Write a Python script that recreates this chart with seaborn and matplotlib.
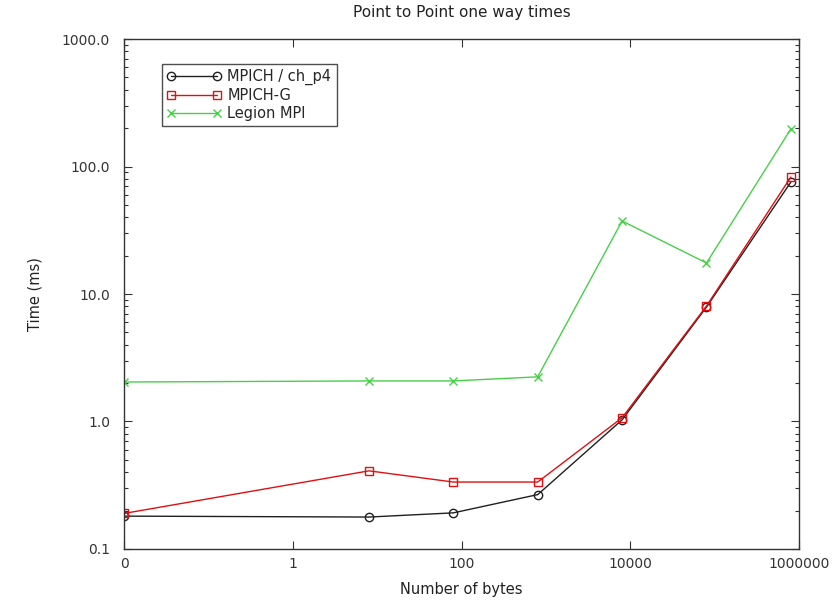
import numpy as np
import pandas as pd
import matplotlib
matplotlib.use("Agg")
import matplotlib.pyplot as plt
from matplotlib.ticker import FixedLocator, FixedFormatter, LogLocator, NullFormatter
import seaborn as sns

# Message sizes in bytes (0 is placed at 0.01 on the log axis)
sizes = [0, 8, 80, 800, 8000, 80000, 800000]

# One-way times in ms
mpich_p4 = [0.181, 0.178, 0.192, 0.267, 1.03, 7.9, 75.5]
mpich_g = [0.19, 0.41, 0.335, 0.335, 1.07, 8.05, 82.7]
legion_mpi = [2.04, 2.08, 2.08, 2.24, 37.4, 17.5, 197.0]

series_names = ["MPICH / ch_p4", "MPICH-G", "Legion MPI"]
x_tick_values = [0, 1, 100, 10000, 1000000]
y_tick_values = [0.1, 1.0, 10.0, 100.0, 1000.0]

sns.set_style("ticks")
plt.rcParams["font.family"] = ["DejaVu Sans"]

zero_pos = 0.01
plot_x = [zero_pos if s == 0 else s for s in sizes]

frames = []
for name, vals in zip(series_names, [mpich_p4, mpich_g, legion_mpi]):
    frames.append(pd.DataFrame({"bytes": plot_x, "time": vals, "impl": name}))
df = pd.concat(frames, ignore_index=True)

styles = {
    "MPICH / ch_p4": dict(color="#202020", marker="o", markerfacecolor="none"),
    "MPICH-G": dict(color="#e01010", marker="s", markerfacecolor="none"),
    "Legion MPI": dict(color="#48d048", marker="x"),
}

fig = plt.figure(figsize=(8.38, 6.07), dpi=100)
ax = fig.add_axes([0.148, 0.0956, 0.8055, 0.8401])

for name in series_names:
    sub = df[df["impl"] == name]
    st = styles[name]
    sns.lineplot(data=sub, x="bytes", y="time", ax=ax, label=name,
                 color=st["color"], marker=st["marker"],
                 markerfacecolor=st.get("markerfacecolor", st["color"]),
                 markeredgecolor=st["color"], markersize=6,
                 markeredgewidth=1.0, linewidth=1.0, sort=False)

ax.set_xscale("log")
ax.set_yscale("log")
ax.set_xlim(zero_pos, 1e6)
ax.set_ylim(0.1, 1000)

x_positions = [zero_pos if v == 0 else v for v in x_tick_values]
ax.xaxis.set_major_locator(FixedLocator(x_positions))
ax.xaxis.set_major_formatter(FixedFormatter([str(v) for v in x_tick_values]))
ax.xaxis.set_minor_locator(FixedLocator([]))

ax.yaxis.set_major_locator(FixedLocator(y_tick_values))
ax.yaxis.set_major_formatter(FixedFormatter([f"{v:.1f}" for v in y_tick_values]))
ax.yaxis.set_minor_locator(LogLocator(base=10, subs=np.arange(2, 10)))
ax.yaxis.set_minor_formatter(NullFormatter())

ax.tick_params(which="both", direction="in", top=True, right=True,
               labelsize=10, colors="#333333", width=0.8)
ax.tick_params(which="major", length=6)
ax.tick_params(axis="y", which="major", pad=10)
ax.tick_params(axis="x", which="major", pad=6)
ax.tick_params(which="minor", length=3)
for sp in ax.spines.values():
    sp.set_linewidth(1.0)
    sp.set_color("#333333")

ax.set_xlabel("Number of bytes", fontsize=10.5, color="#222222", labelpad=8)
ax.set_ylabel("Time (ms)", fontsize=10.5, color="#222222", labelpad=14)
ax.set_title("Point to Point one way times", fontsize=11, color="#222222", pad=16)

leg = ax.legend(loc="upper left", bbox_to_anchor=(0.056, 0.951), numpoints=2,
                handlelength=3.7, fontsize=10.5, frameon=True, fancybox=False,
                borderpad=0.35, labelspacing=0.2, handletextpad=0.45,
                borderaxespad=0)
leg.get_frame().set_edgecolor("#222222")
leg.get_frame().set_linewidth(1.0)

fig.savefig("out.png", dpi=100)
